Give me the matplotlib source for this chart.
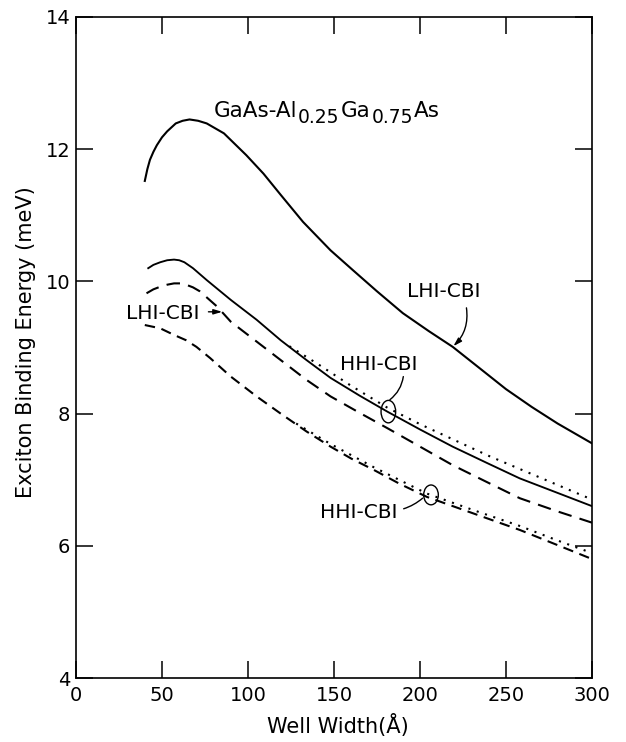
import numpy as np
import matplotlib.pyplot as plt
from matplotlib.patches import Ellipse

# binding energy vs well width
# upper solid curve (LHI-CBI, x = 0.25)
a_w = [40, 41.5, 43, 45, 47, 50, 53, 58, 62, 66, 71, 76, 86, 99, 109, 119, 132, 148, 161, 175, 190, 205, 219,
       235, 250, 265, 280, 300]
a_e = [11.52, 11.70, 11.84, 11.96, 12.06, 12.18, 12.27, 12.39, 12.43, 12.45, 12.43, 12.39, 12.24, 11.91, 11.63,
       11.31, 10.90, 10.47, 10.17, 9.85, 9.52, 9.25, 9.01, 8.68, 8.37, 8.10, 7.85, 7.55]

# lower solid curve (HHI-CBI)
b_w = [42, 45, 49, 53, 57, 60, 63, 68, 76, 90, 105, 119, 134, 148, 165, 181, 200, 219, 240, 258, 280, 300]
b_e = [10.20, 10.25, 10.29, 10.32, 10.33, 10.32, 10.29, 10.20, 10.02, 9.72, 9.42, 9.11, 8.81, 8.54, 8.27,
       8.03, 7.76, 7.50, 7.24, 7.02, 6.80, 6.60]

# dotted curve next to it
bd_w = [124, 140, 160, 181, 200, 220, 240, 260, 280, 300]
bd_e = [9.02, 8.76, 8.42, 8.09, 7.84, 7.60, 7.36, 7.14, 6.92, 6.70]

# long dashed (LHI-CBI)
c_w = [41, 45, 49, 53, 57, 61, 64, 68, 72, 82, 90, 105, 119, 134, 148, 165, 181, 200, 219, 240, 258, 280, 300]
c_e = [9.82, 9.88, 9.92, 9.95, 9.97, 9.97, 9.95, 9.91, 9.85, 9.62, 9.39, 9.09, 8.81, 8.51, 8.26, 8.01, 7.78,
       7.50, 7.22, 6.95, 6.72, 6.52, 6.35]

# short dashed (HHI-CBI)
d_w = [40, 49, 57, 64, 70, 78, 90, 105, 119, 134, 148, 160, 173, 188, 204, 218, 231, 245, 258, 280, 300]
d_e = [9.34, 9.29, 9.19, 9.11, 9.01, 8.84, 8.56, 8.26, 8.00, 7.73, 7.50, 7.32, 7.15, 6.94, 6.74, 6.61,
       6.49, 6.36, 6.24, 6.01, 5.80]

# dotted next to the short dashed one
dd_w = [128, 148, 173, 204, 231, 258, 280, 300]
dd_e = [7.85, 7.54, 7.19, 6.79, 6.54, 6.30, 6.08, 5.89]

x_ticks = [0, 50, 100, 150, 200, 250, 300]
y_ticks = [4, 6, 8, 10, 12, 14]

# title pieces: (text, is_subscript)
title_parts = [('GaAs-Al', False), ('0.25', True), ('Ga', False), ('0.75', True), ('As', False)]

fig = plt.figure(figsize=(6.26, 7.42), dpi=100)
ax = fig.add_axes([76 / 626, 1 - 678 / 742, 516 / 626, 661 / 742])

lw = 1.5
ax.plot(a_w, a_e, color='black', lw=lw)
ax.plot(b_w, b_e, color='black', lw=lw * 0.9)
ax.plot(bd_w, bd_e, color='black', lw=lw, linestyle=(0, (1, 3.2)))
ax.plot(c_w, c_e, color='black', lw=lw, linestyle=(0, (6.5, 4)))
ax.plot(d_w, d_e, color='black', lw=lw, linestyle=(0, (5, 3.2)))
ax.plot(dd_w, dd_e, color='black', lw=lw, linestyle=(0, (1, 3.2)))

ax.set_xlim(0, 300)
ax.set_ylim(4, 14)
ax.set_xticks(x_ticks)
ax.set_yticks(y_ticks)
ax.tick_params(direction='in', length=12, width=1.1, top=True, right=True,
               labelsize=14, pad=6)
ax.tick_params(axis='y', pad=4)
for s in ax.spines.values():
    s.set_linewidth(1.2)

fig.text(26 / 626, 1 - 342 / 742, 'Exciton Binding Energy (meV)', rotation=90,
         ha='center', va='center', fontsize=15)
fig.text(338 / 626, 1 - 725 / 742, 'Well Width(Å)', ha='center', va='center', fontsize=15)

# formula label built piece by piece so the subscripts stay large
prev = ax.text(80, 12.49, title_parts[0][0], fontsize=15.5, va='baseline')
prev_sub = False
for txt, sub in title_parts[1:]:
    dy = -4.5 if sub else 4.5
    if sub == prev_sub:
        dy = 0
    prev = ax.annotate(txt, xy=(1, 0), xycoords=prev, xytext=(0.8, dy), textcoords='offset points',
                       fontsize=13.5 if sub else 15.5, va='bottom')
    prev_sub = sub

fs = 14.5
ax.text(192.5, 9.84, 'LHI-CBI', fontsize=fs, va='center')
ax.text(153.5, 8.74, 'HHI-CBI', fontsize=fs, va='center')
ax.text(29, 9.52, 'LHI-CBI', fontsize=fs, va='center')
ax.text(142, 6.50, 'HHI-CBI', fontsize=fs, va='center')

ax.annotate('', xy=(219.4, 9.02), xytext=(227, 9.60),
            arrowprops=dict(arrowstyle='-|>,head_length=0.5,head_width=0.15', color='black',
                            lw=1, connectionstyle='arc3,rad=-0.25', shrinkA=0, shrinkB=0))
ax.annotate('', xy=(85, 9.54), xytext=(77, 9.54),
            arrowprops=dict(arrowstyle='-|>,head_length=0.5,head_width=0.15', color='black',
                            lw=1, shrinkA=0, shrinkB=0))
ax.annotate('', xy=(182.5, 8.21), xytext=(190.3, 8.56),
            arrowprops=dict(arrowstyle='-', color='black', lw=1,
                            connectionstyle='arc3,rad=-0.2', shrinkA=0, shrinkB=0))
ax.annotate('', xy=(201.5, 6.72), xytext=(190.5, 6.56),
            arrowprops=dict(arrowstyle='-', color='black', lw=1,
                            connectionstyle='arc3,rad=0.1', shrinkA=0, shrinkB=0))

ax.add_patch(Ellipse((181.6, 8.03), 8.5, 0.34, angle=0, fill=False, color='black', lw=1))
ax.add_patch(Ellipse((206.4, 6.77), 8.5, 0.30, angle=0, fill=False, color='black', lw=1))

fig.savefig('out.png', dpi=100)
